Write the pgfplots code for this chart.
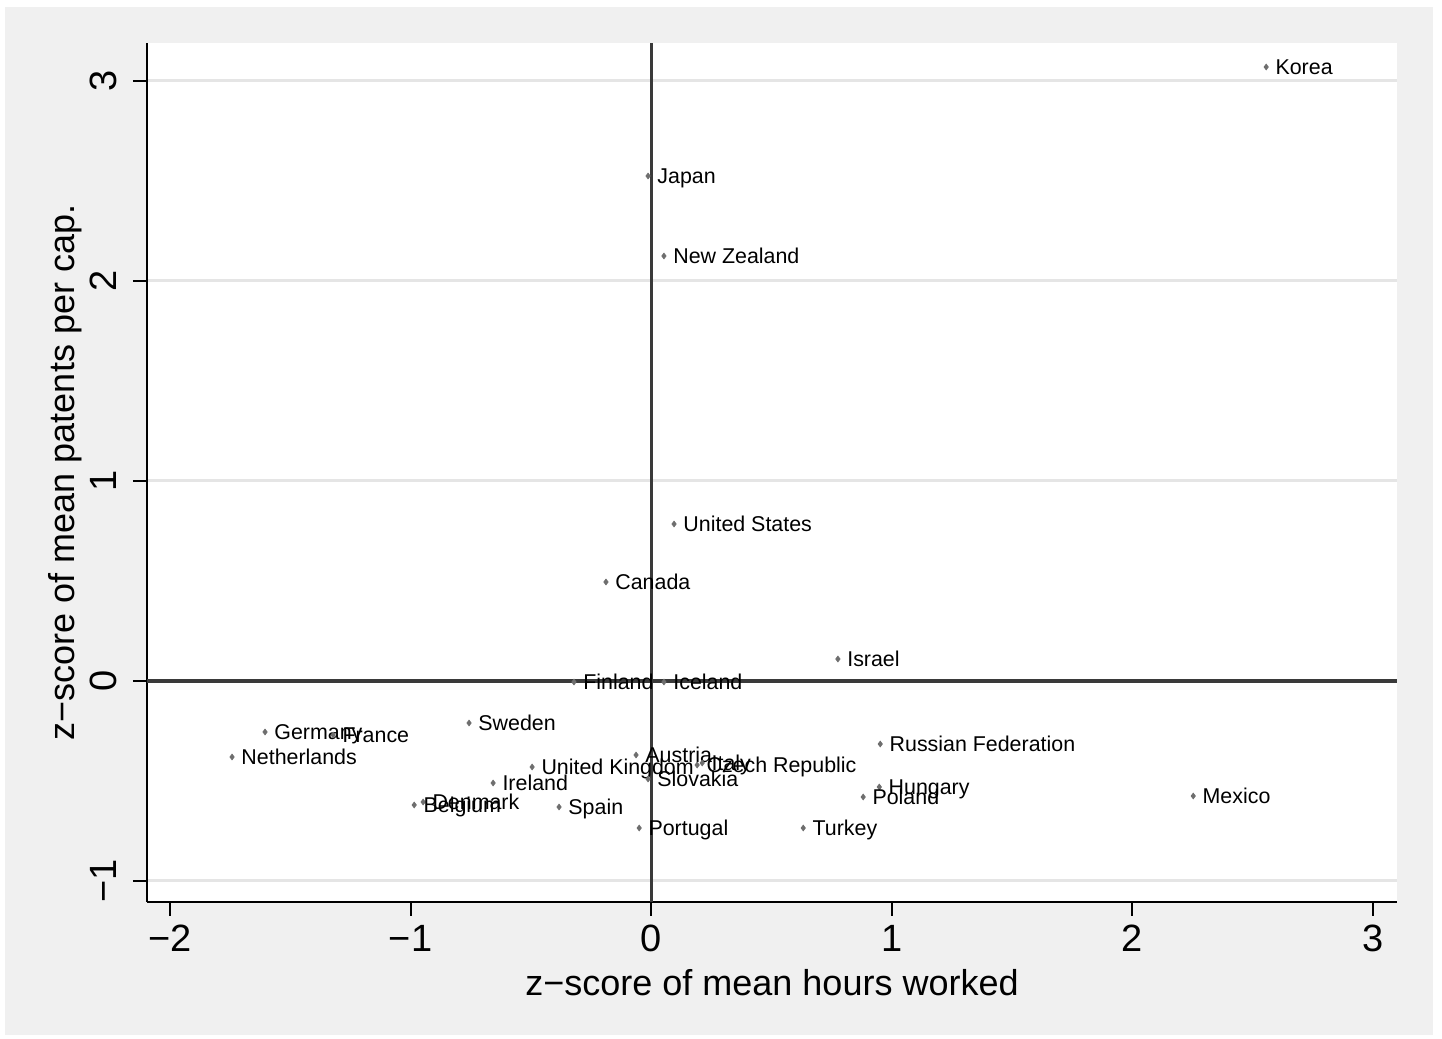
\documentclass[border=0pt]{standalone}
\usepackage{fontspec}
\setmainfont{Liberation Sans}
\usepackage{pgfplots}
\pgfplotsset{compat=1.18}
\definecolor{bggray}{HTML}{F0F0F0}
\definecolor{gridgray}{HTML}{E5E5E5}
\definecolor{zerogray}{HTML}{3A3A3A}
\definecolor{markgray}{HTML}{6E6E6E}
\pgfplotstableread{
x y label
2.556 3.07 Korea
-0.013 2.525 Japan
0.053 2.125 {New Zealand}
0.095 0.785 {United States}
-0.188 0.495 Canada
0.776 0.11 Israel
-0.321 -0.005 Finland
0.053 -0.005 Iceland
-1.605 -0.255 Germany
-1.322 -0.27 France
-1.742 -0.38 Netherlands
-0.757 -0.21 Sweden
-0.495 -0.43 {United Kingdom}
-0.063 -0.37 Austria
0.191 -0.42 {Czech Republic}
0.212 -0.41 Italy
-0.657 -0.51 Ireland
-0.013 -0.49 Slovakia
-0.948 -0.605 Denmark
-0.985 -0.62 Belgium
-0.383 -0.63 Spain
-0.05 -0.735 Portugal
0.632 -0.735 Turkey
0.952 -0.315 {Russian Federation}
0.948 -0.53 Hungary
0.881 -0.58 Poland
2.253 -0.575 Mexico
}\datatab
\begin{document}
\begin{tikzpicture}
\useasboundingbox (0,0) rectangle (721pt,519.5pt);
\fill[bggray] (2.5pt,2pt) rectangle (716.5pt,516pt);
\begin{axis}[
  at={(73.5pt,68.5pt)}, anchor=south west,
  width=625pt, height=429.5pt, scale only axis,
  xmin=-2.0956, xmax=3.0998, ymin=-1.105, ymax=3.19,
  axis x line=bottom, axis y line=left,
  axis line style={-, black, line width=1.1pt},
  axis background/.style={fill=white},
  xtick={-2,-1,0,1,2,3}, xticklabels={−2,−1,0,1,2,3},
  ytick={-1,0,1,2,3}, yticklabels={−1,0,1,2,3},
  tick align=outside, major tick length=7pt,
  tick style={black, line width=1pt},
  minor tick num=0,
  ymajorgrids, grid style={gridgray, line width=1.5pt},
  ticklabel style={font=\fontsize{19}{19}\selectfont},
  xticklabel style={anchor=base, inner sep=0pt},
  xticklabel shift=18pt,
  yticklabel style={rotate=90, anchor=base, inner sep=0pt},
  yticklabel shift=8pt,
  xlabel={z−score of mean hours worked},
  ylabel={z−score of mean patents per cap.},
  label style={font=\fontsize{18}{18}\selectfont},
  xlabel style={at={(axis description cs:0.5,-0.10827)}, anchor=base},
  ylabel style={at={(axis description cs:-0.0576,0.5)}, anchor=base},
]
\draw[zerogray, line width=1.6pt] (axis cs:0,-1.105) -- (axis cs:0,3.19);
\draw[zerogray, line width=1.6pt] (axis cs:-2.0956,0) -- (axis cs:3.0998,0);
\addplot[only marks, mark=diamond*, mark size=1.4pt, color=markgray,
  nodes near coords, point meta=explicit symbolic,
  every node near coord/.append style={anchor=base west, text=black,
    font=\fontsize{10.7}{10.7}\selectfont, inner sep=0pt,
    xshift=4.5pt, yshift=-3.8pt}]
  table[x=x, y=y, meta=label] {\datatab};
\end{axis}
\end{tikzpicture}
\end{document}
